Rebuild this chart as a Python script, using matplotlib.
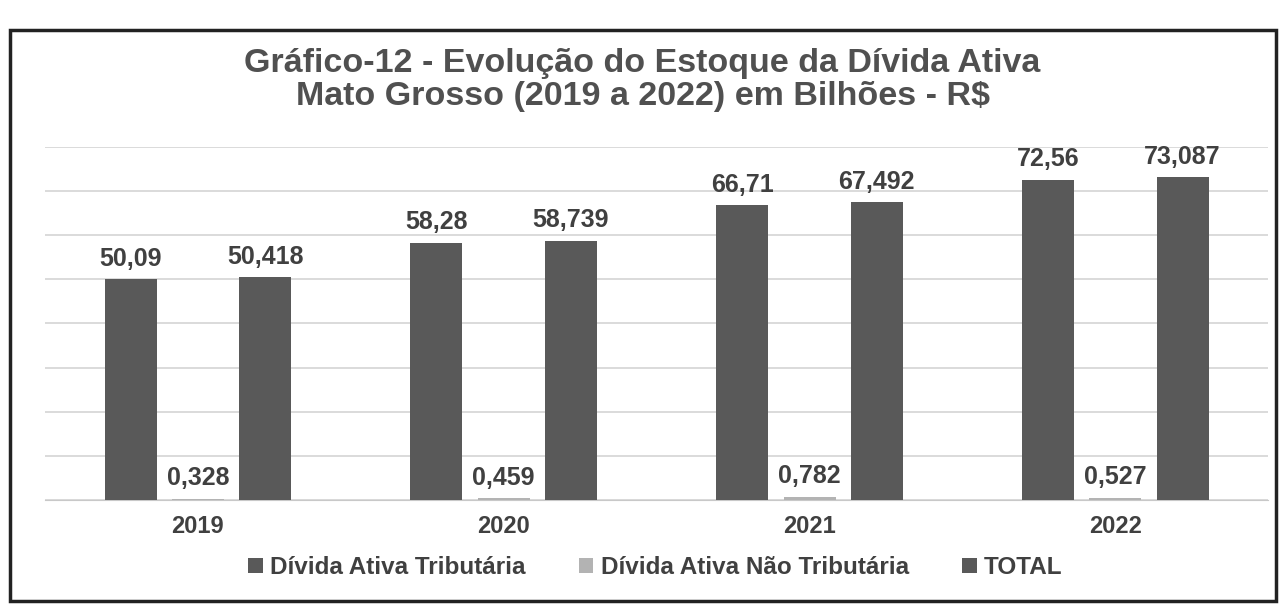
import numpy as np
import matplotlib
matplotlib.use('Agg')
import matplotlib.pyplot as plt
from matplotlib.patches import Rectangle

# data (R$ bilhões)
anos = ['2019', '2020', '2021', '2022']
tributaria = [50.09, 58.28, 66.71, 72.56]
nao_tributaria = [0.328, 0.459, 0.782, 0.527]
total = [50.418, 58.739, 67.492, 73.087]
labels_trib = ['50,09', '58,28', '66,71', '72,56']
labels_nt = ['0,328', '0,459', '0,782', '0,527']
labels_total = ['50,418', '58,739', '67,492', '73,087']

plt.rcParams['font.family'] = ['Liberation Sans', 'DejaVu Sans']
txt_color = '#404040'

fig = plt.figure(figsize=(12.85, 6.04), dpi=100)
ax = fig.add_axes([0.035, 0.172, 0.952, 0.585])

x = np.arange(len(anos))
w = 0.17
off = 0.22
series = [
    (tributaria, labels_trib, '#595959', -off),
    (nao_tributaria, labels_nt, '#b3b3b3', 0),
    (total, labels_total, '#595959', off),
]
names = ['Dívida Ativa Tributária', 'Dívida Ativa Não Tributária', 'TOTAL']
for (vals, labs, col, o), name in zip(series, names):
    bars = ax.bar(x + o, vals, w, color=col, label=name, zorder=3)
    ax.bar_label(bars, labels=labs, padding=6, fontsize=18, fontweight='bold',
                 color=txt_color)

ax.set_xlim(-0.5, 3.5)
ax.set_ylim(0, 80)
ax.set_yticks(np.arange(0, 81, 10))
ax.yaxis.grid(True, color='#d4d4d4', linewidth=1.2, zorder=0)
ax.tick_params(axis='y', left=False, labelleft=False)
ax.tick_params(axis='x', length=0, pad=11)
ax.set_xticks(x)
ax.set_xticklabels(anos, fontsize=17, fontweight='bold', color=txt_color)
for s in ['top', 'right', 'left']:
    ax.spines[s].set_visible(False)
ax.spines['bottom'].set_color('#c8c8c8')

fig.text(0.5, 0.868, 'Gráfico-12 - Evolução do Estoque da Dívida Ativa\nMato Grosso (2019 a 2022) em Bilhões - R$',
         ha='center', va='center', fontsize=24.5, fontweight='bold', color='#505050',
         linespacing=1.1)

fig.legend(loc='center', bbox_to_anchor=(0.51, 0.06), ncol=3, frameon=False,
           handlelength=0.6, handleheight=0.6, handletextpad=0.3,
           columnspacing=2.2, prop={'weight': 'bold', 'size': 17.5},
           labelcolor=txt_color)

fig.patches.append(Rectangle((0.008, 0.005), 0.985, 0.945, transform=fig.transFigure,
                             fill=False, edgecolor='#222222', linewidth=2.5))

fig.savefig('out.png', dpi=100, facecolor='white')
